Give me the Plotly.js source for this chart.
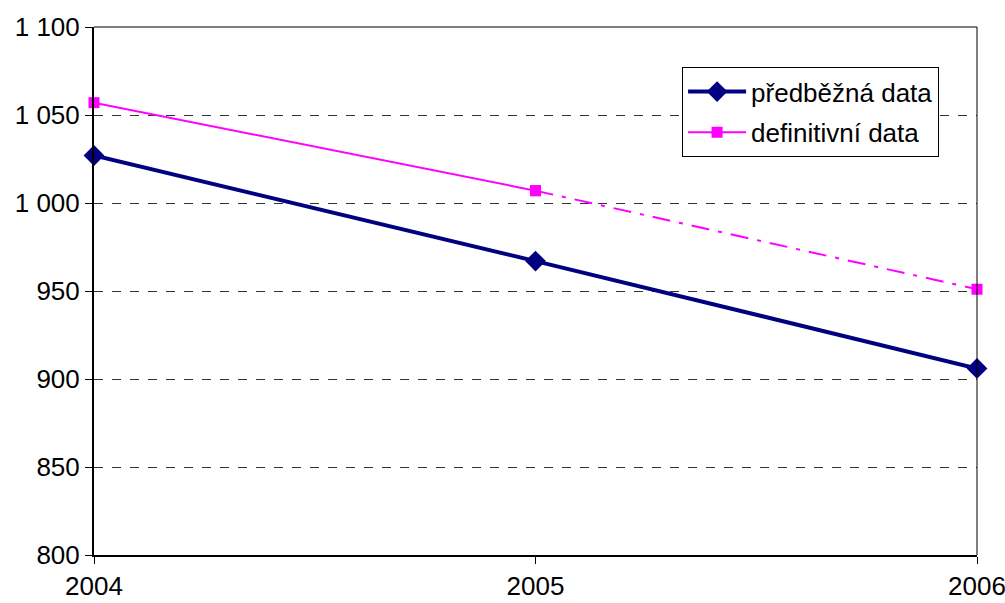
<!DOCTYPE html>
<html>
<head>
<meta charset="utf-8">
<script src="https://cdn.plot.ly/plotly-3.0.1.min.js"></script>
<style>html,body{margin:0;padding:0;background:#fff}#chart{width:1005px;height:603px}</style>
</head>
<body>
<div id="chart"></div>
<script>
const years = [2004, 2005, 2006];
const predbezna = [1027, 967, 906];
const definitivni = [1057, 1007, 951];
const yTickVals = [800, 850, 900, 950, 1000, 1050, 1100];
const yTickText = ['800', '850', '900', '950', '1 000', '1 050', '1 100'];
const seriesNames = ['předběžná data', 'definitivní data'];

const FONT = '"Liberation Sans", Arial, sans-serif';
const FS = 26;

const traces = [
  {
    x: years, y: predbezna, name: seriesNames[0], mode: 'lines+markers',
    legendgroup: 'a',
    line: {color: '#000080', width: 4},
    marker: {symbol: 'diamond', size: 16, color: '#000080'},
    cliponaxis: false
  },
  {
    x: years.slice(0, 2), y: definitivni.slice(0, 2), name: seriesNames[1], mode: 'lines+markers',
    legendgroup: 'b',
    line: {color: '#FF00FF', width: 2},
    marker: {symbol: 'square', size: 11, color: '#FF00FF'},
    cliponaxis: false
  },
  {
    x: years.slice(1), y: definitivni.slice(1), name: seriesNames[1], mode: 'lines+markers',
    legendgroup: 'b', showlegend: false,
    line: {color: '#FF00FF', width: 2, dash: '18px,9px,4px,9px'},
    marker: {symbol: 'square', size: 11, color: '#FF00FF'},
    cliponaxis: false
  }
];

const layout = {
  width: 1005, height: 603,
  margin: {l: 94, r: 28, t: 27, b: 48},
  paper_bgcolor: '#fff', plot_bgcolor: '#fff',
  font: {family: FONT, size: FS, color: '#000'},
  showlegend: true,
  legend: {
    x: 0.666, y: 0.924, xanchor: 'left', yanchor: 'top',
    bordercolor: '#000', borderwidth: 1, bgcolor: '#fff',
    font: {family: FONT, size: FS, color: '#000'},
    itemwidth: 58,
    traceorder: 'grouped', tracegroupgap: 4
  },
  xaxis: {
    range: [2004, 2006], tickvals: years, ticktext: years.map(String),
    tickfont: {family: FONT, size: FS, color: '#000'},
    ticklabeloverflow: 'allow',
    showgrid: false, zeroline: false,
    showline: true, linecolor: '#000', linewidth: 2,
    ticks: 'outside', ticklen: 7, tickcolor: '#000', tickwidth: 1,
    fixedrange: true
  },
  yaxis: {
    range: [800, 1100], tickvals: yTickVals, ticktext: yTickText,
    tickfont: {family: FONT, size: FS, color: '#000'},
    ticklabeloverflow: 'allow',
    showgrid: true, gridcolor: '#333', gridwidth: 1, griddash: 'dash',
    zeroline: false,
    showline: true, linecolor: '#000', linewidth: 2,
    ticks: 'outside', ticklen: 7, tickcolor: '#000', tickwidth: 1,
    fixedrange: true
  },
  shapes: [
    {type: 'line', xref: 'paper', yref: 'paper', x0: 0, x1: 1, y0: 1, y1: 1, line: {color: '#000', width: 1}},
    {type: 'line', xref: 'paper', yref: 'paper', x0: 1, x1: 1, y0: 0, y1: 1, line: {color: '#000', width: 1}}
  ]
};

Plotly.newPlot('chart', traces, layout, {displayModeBar: false, staticPlot: true});
</script>
</body>
</html>
